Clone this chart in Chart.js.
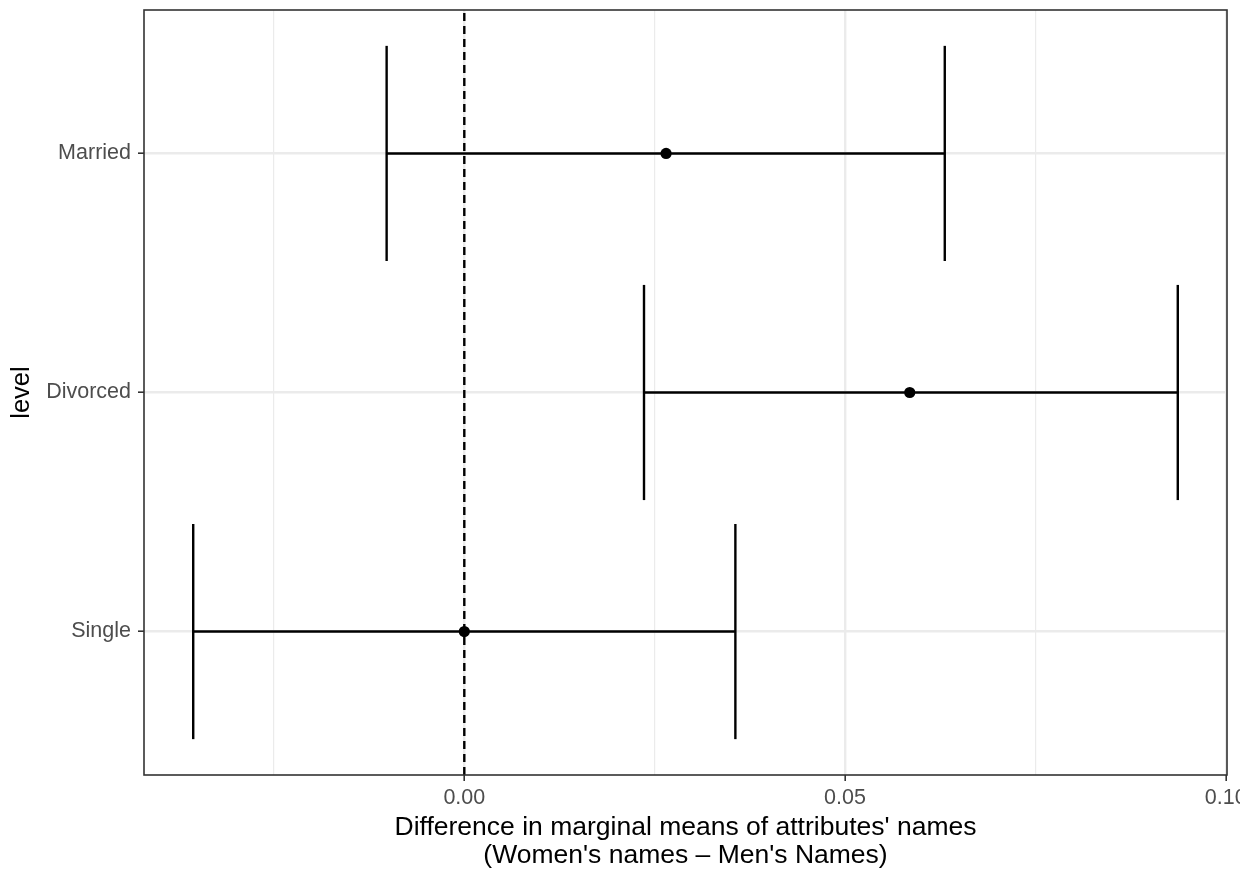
<!DOCTYPE html>
<html>
<head>
<meta charset="utf-8">
<script src="https://cdn.jsdelivr.net/npm/chart.js@4.4.0/dist/chart.umd.min.js"></script>
<style>
  html, body { margin: 0; padding: 0; background: #ffffff; }
  #wrap { width: 1240px; height: 877px; overflow: hidden; background: #ffffff; }
  canvas { display: block; }
</style>
</head>
<body>
<div id="wrap"><canvas id="c" width="1256" height="877"></canvas></div>
<script>
// ---- data ----
const levels = ['Single', 'Divorced', 'Married'];
const estimate = [0.0, 0.0585, 0.0265];
const lower = [-0.0356, 0.0236, -0.0102];
const upper = [0.0356, 0.0937, 0.0631];
const xMajorTicks = [0.0, 0.05, 0.10];
const xMinorTicks = [-0.025, 0.025, 0.075];
const refLine = 0;
const xTitle = ["Difference in marginal means of attributes' names", "(Women's names \u2013 Men's Names)"];
const yTitle = 'level';

// ---- derived ranges (ggplot-style 5% expansion) ----
const lo = Math.min(...lower), hi = Math.max(...upper);
const span = hi - lo;
const xMin = lo - 0.05 * span, xMax = hi + 0.05 * span;
const yMin = 0.4, yMax = levels.length + 0.6;
const capHalf = 0.45;

const FONT = "'Liberation Sans', Arial, Helvetica, sans-serif";
const datasets = [];
const lineStyle = { borderColor: '#000000', borderWidth: 2.4, pointRadius: 0, showLine: true, fill: false, tension: 0 };

// reference dashed line
datasets.push(Object.assign({}, lineStyle, {
  data: [{ x: refLine, y: yMin }, { x: refLine, y: yMax }],
  borderDash: [8, 5]
}));

levels.forEach((lv, i) => {
  const y = i + 1;
  datasets.push(Object.assign({}, lineStyle, { data: [{ x: lower[i], y: y }, { x: upper[i], y: y }] }));
  datasets.push(Object.assign({}, lineStyle, { data: [{ x: lower[i], y: y - capHalf }, { x: lower[i], y: y + capHalf }] }));
  datasets.push(Object.assign({}, lineStyle, { data: [{ x: upper[i], y: y - capHalf }, { x: upper[i], y: y + capHalf }] }));
});

datasets.push({
  data: estimate.map((v, i) => ({ x: v, y: i + 1 })),
  showLine: false,
  pointRadius: 5.6,
  pointBackgroundColor: '#000000',
  pointBorderColor: '#000000',
  pointBorderWidth: 0
});

const allX = xMinorTicks.concat(xMajorTicks).sort((a, b) => a - b);
const isMajor = v => xMajorTicks.some(m => Math.abs(m - v) < 1e-9);

const borderPlugin = {
  id: 'panelBorder',
  afterDraw(chart) {
    const { ctx, chartArea: a } = chart;
    ctx.save();
    ctx.strokeStyle = '#333333';
    ctx.lineWidth = 1.6;
    ctx.strokeRect(a.left, a.top, a.right - a.left, a.bottom - a.top);
    ctx.restore();
  }
};

new Chart(document.getElementById('c'), {
  type: 'scatter',
  data: { datasets },
  plugins: [borderPlugin],
  options: {
    responsive: false,
    animation: false,
    events: [],
    layout: { padding: { left: 0, top: 10, right: 29, bottom: 0 } },
    plugins: { legend: { display: false }, tooltip: { enabled: false } },
    scales: {
      x: {
        type: 'linear',
        min: xMin, max: xMax,
        afterBuildTicks: s => { s.ticks = allX.map(v => ({ value: v })); },
        afterFit: s => { s.height = 102; s.paddingLeft = 0; s.paddingRight = 0; },
        border: { display: false },
        grid: {
          color: '#ebebeb',
          lineWidth: c => (c.tick && isMajor(c.tick.value)) ? 2.4 : 1.2,
          drawTicks: true,
          tickLength: 6,
          tickColor: c => (c.tick && isMajor(c.tick.value)) ? '#333333' : 'rgba(0,0,0,0)',
          tickWidth: 1.6
        },
        ticks: {
          autoSkip: false,
          maxRotation: 0,
          padding: 4,
          color: '#4d4d4d',
          font: { family: FONT, size: 21.5 },
          callback: v => isMajor(v) ? v.toFixed(2) : ''
        },
        title: {
          display: true,
          text: xTitle,
          color: '#000000',
          font: { family: FONT, size: 26.5, lineHeight: '28px' },
          padding: { top: 2, bottom: 7 }
        }
      },
      y: {
        type: 'linear',
        min: yMin, max: yMax,
        afterBuildTicks: s => { s.ticks = levels.map((l, i) => ({ value: i + 1 })); },
        afterFit: s => { s.width = 144; s.paddingTop = 0; s.paddingBottom = 0; },
        border: { display: false },
        grid: {
          color: '#ebebeb',
          lineWidth: 2.4,
          drawTicks: true,
          tickLength: 6,
          tickColor: '#333333',
          tickWidth: 1.6
        },
        ticks: {
          autoSkip: false,
          padding: 7,
          color: '#4d4d4d',
          font: { family: FONT, size: 21.5 },
          callback: v => levels[Math.round(v) - 1] || ''
        },
        title: {
          display: true,
          text: yTitle,
          color: '#000000',
          font: { family: FONT, size: 25.5, lineHeight: 1.2 },
          padding: { top: 7, bottom: 0 }
        }
      }
    }
  }
});
</script>
</body>
</html>
